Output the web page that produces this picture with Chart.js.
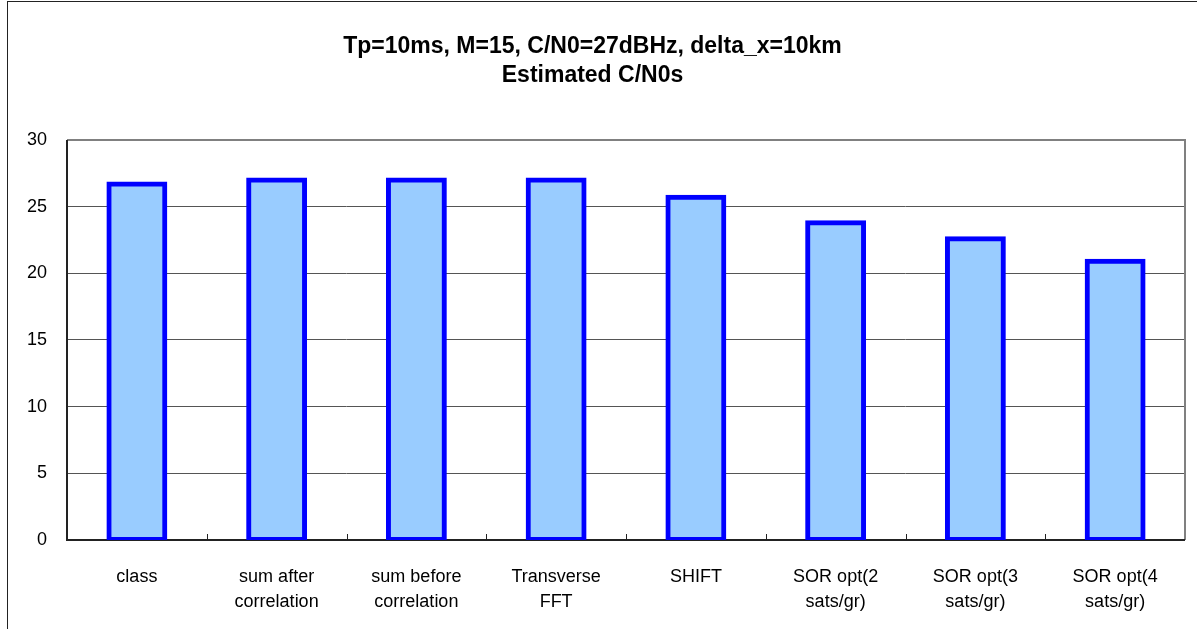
<!DOCTYPE html>
<html>
<head>
<meta charset="utf-8">
<title>Estimated C/N0s</title>
<script src="https://cdn.jsdelivr.net/npm/chart.js@4/dist/chart.umd.min.js"></script>
<style>
  html, body { margin: 0; padding: 0; background: #fff; }
  #wrap { width: 1197px; height: 629px; position: relative; }
</style>
</head>
<body>
<div id="wrap"><canvas id="chart-main" width="1197" height="629"></canvas></div>
<script>
// --- data ---
const categories = [
    'class',
    ['sum after', 'correlation'],
    ['sum before', 'correlation'],
    ['Transverse', 'FFT'],
    'SHIFT',
    ['SOR opt(2', 'sats/gr)'],
    ['SOR opt(3', 'sats/gr)'],
    ['SOR opt(4', 'sats/gr)']
];
const estimatedCN0 = [26.7, 27.0, 27.0, 27.0, 25.7, 23.8, 22.6, 20.9];
const yTicks = [0, 5, 10, 15, 20, 25, 30];
const titleLines = ['Tp=10ms, M=15, C/N0=27dBHz, delta_x=10km', 'Estimated C/N0s'];

const FONT = "'Liberation Sans', Arial, sans-serif";

// outer box + plot frame + small inward ticks on the category axis
const framePlugin = {
    id: 'frame',
    beforeDraw(chart) {
        const ctx = chart.ctx;
        ctx.save();
        ctx.fillStyle = '#fff';
        ctx.fillRect(0, 0, chart.width, chart.height);
        ctx.strokeStyle = '#222';
        ctx.lineWidth = 1;
        ctx.strokeRect(7.5, 1.5, chart.width + 50, chart.height + 50);
        ctx.restore();
    },
    beforeDatasetsDraw(chart) {
        const { ctx, chartArea: a } = chart;
        const xs = chart.scales.x;
        ctx.save();
        // top + right edges (grey)
        ctx.strokeStyle = '#808080';
        ctx.lineWidth = 2;
        ctx.beginPath();
        ctx.moveTo(a.left, a.top);
        ctx.lineTo(a.right, a.top);
        ctx.lineTo(a.right, a.bottom);
        ctx.stroke();
        // left + bottom axes (dark)
        ctx.strokeStyle = '#222';
        ctx.beginPath();
        ctx.moveTo(a.left, a.top);
        ctx.lineTo(a.left, a.bottom);
        ctx.lineTo(a.right, a.bottom);
        ctx.stroke();
        // tick marks between categories
        ctx.lineWidth = 1;
        for (let i = 1; i < categories.length; i++) {
            const x = Math.round((xs.getPixelForValue(i - 1) + xs.getPixelForValue(i)) / 2) + 0.5;
            ctx.beginPath();
            ctx.moveTo(x, a.bottom);
            ctx.lineTo(x, a.bottom - 6);
            ctx.stroke();
        }
        ctx.restore();
    }
};

const ctx = document.getElementById('chart-main').getContext('2d');
new Chart(ctx, {
    type: 'bar',
    data: {
        labels: categories,
        datasets: [{
            label: 'Estimated C/N0',
            data: estimatedCN0,
            backgroundColor: '#99CCFF',
            borderColor: '#0000FF',
            borderWidth: 5,
            borderSkipped: false,
            inflateAmount: 2.5,
            categoryPercentage: 1,
            barPercentage: 0.40
        }]
    },
    options: {
        responsive: false,
        animation: false,
        devicePixelRatio: 1,
        layout: { padding: { left: 0, right: 12, top: 0, bottom: 0 } },
        plugins: {
            legend: { display: false },
            tooltip: { enabled: false },
            title: {
                display: true,
                text: titleLines,
                color: '#000',
                font: { family: FONT, size: 23, weight: 'bold', lineHeight: 1.26 },
                padding: { top: 32, bottom: 50 }
            }
        },
        scales: {
            x: {
                grid: { display: false },
                border: { display: false },
                ticks: {
                    color: '#000',
                    font: { family: FONT, size: 18, lineHeight: 1.36 },
                    padding: 17,
                    maxRotation: 0,
                    autoSkip: false
                },
                afterFit(s) { s.height = 89; }
            },
            y: {
                min: 0,
                max: 30,
                afterBuildTicks(s) { s.ticks = yTicks.map(v => ({ value: v })); },
                grid: {
                    drawTicks: false,
                    lineWidth: 1,
                    color: c => (c.tick.value === 0 || c.tick.value === 30) ? 'rgba(0,0,0,0)' : '#555'
                },
                border: { display: false },
                ticks: {
                    color: '#000',
                    font: { family: FONT, size: 18 },
                    padding: 20
                },
                afterFit(s) { s.width = 67; }
            }
        }
    },
    plugins: [framePlugin]
});
</script>
</body>
</html>
